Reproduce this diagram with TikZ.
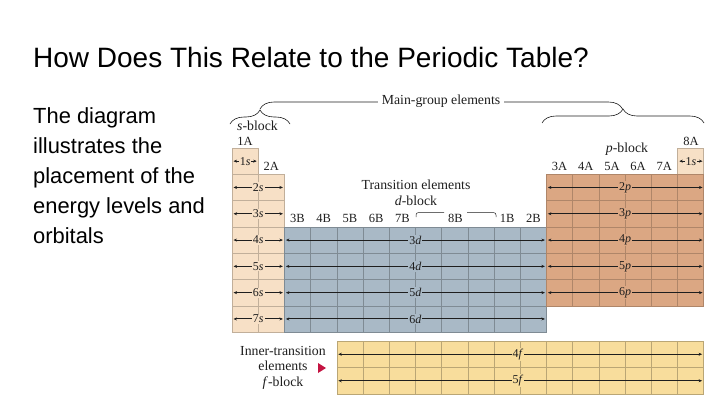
\documentclass[tikz,border=0pt]{standalone}
\usepackage{fontspec}
\setmainfont{Liberation Sans}
\newfontfamily\serifd{Liberation Serif}
\usetikzlibrary{arrows.meta,decorations.pathreplacing}
\definecolor{sfill}{HTML}{F7E0C6}
\definecolor{pfill}{HTML}{DBA783}
\definecolor{dfill}{HTML}{A9B9C6}
\definecolor{ffill}{HTML}{F8DD9C}
\definecolor{tric}{HTML}{C41442}
\definecolor{inkc}{HTML}{1E1E1E}
\newcommand\pcell[3]{\path[#1] ({232+(#2-1)*26.2},{148+(#3-1)*26.3}) rectangle ++(26.2,26.3);}
\begin{document}
\begin{tikzpicture}[x=1pt,y=-1pt,
  titlef/.style={font=\fontsize{28}{32}\selectfont,inner sep=0pt,anchor=base west,text=black},
  bodyf/.style={font=\fontsize{21.9}{26}\selectfont,inner sep=0pt,anchor=base west,text=black},
  blab/.style={font=\serifd\fontsize{13.8}{15.5}\selectfont,inner sep=1pt,text=inkc},
  glab/.style={font=\serifd\fontsize{12.5}{14}\selectfont,inner sep=0.5pt,text=inkc},
  olab/.style={font=\serifd\fontsize{12}{12}\selectfont,inner sep=1pt,text=inkc},
  orb/.style={{Stealth[length=3.5pt,width=3pt]}-{Stealth[length=3.5pt,width=3pt]},draw=inkc},
  gridS/.style={draw=sfill!78!black,line width=0.4pt},
  gridD/.style={draw=dfill!75!black,line width=0.4pt},
  gridP/.style={draw=pfill!80!black,line width=0.4pt},
  gridF/.style={draw=ffill!75!black,line width=0.4pt},
  bracef/.style={draw=inkc,line width=0.6pt,decorate}
]
\useasboundingbox (0,0) rectangle (720,405);

% ---------- text ----------
\node[titlef] (title) at (33,67) {How Does This Relate to the Periodic Table?};
\node[bodyf] (b1) at (33,123) {The diagram};
\node[bodyf] (b2) at (33,153) {illustrates the};
\node[bodyf] (b3) at (33,183) {placement of the};
\node[bodyf] (b4) at (33,213) {energy levels and};
\node[bodyf] (b5) at (33,243) {orbitals};

% ---------- block fills ----------
\fill[sfill] (232,148) rectangle (258.2,174.3);
\fill[sfill] (232,174.3) rectangle (284.4,332.1);
\fill[sfill] (677.8,148) rectangle (704,174.3);
\fill[dfill] (284.4,226.9) rectangle (546.4,332.1);
\fill[pfill] (546.4,174.3) rectangle (704,305.8);
\fill[ffill] (336.8,341) rectangle (703.6,394);

% ---------- cell grids ----------
\pcell{gridS}{1}{1}
\foreach \r in {2,...,7}{\foreach \c in {1,2}{\pcell{gridS}{\c}{\r}}}
\pcell{gridS}{18}{1}
\foreach \r in {4,...,7}{\foreach \c in {3,...,12}{\pcell{gridD}{\c}{\r}}}
\foreach \r in {2,...,6}{\foreach \c in {13,...,18}{\pcell{gridP}{\c}{\r}}}
\foreach \r in {0,1}{\foreach \c in {0,...,13}{\path[gridF] ({336.8+\c*26.2},{341+\r*26.5}) rectangle ++(26.2,26.5);}}

% ---------- orbital arrows ----------
\coordinate (sL1) at (233.5,161.15); \coordinate (sR1) at (256.7,161.15);
\draw[orb,line width=0.5pt] (sL1) -- (sR1);
\node[olab,fill=sfill] (slab1) at (245.1,161.15) {1\textit{s}};
\coordinate (hL1) at (679.3,161.15); \coordinate (hR1) at (702.5,161.15);
\draw[orb,line width=0.5pt] (hL1) -- (hR1);
\node[olab,fill=sfill] (hlab1) at (690.9,161.15) {1\textit{s}};
\foreach \r/\w in {2/0.5,3/1.0,4/1.0,5/0.6,6/0.5,7/1.0}{
  \pgfmathsetmacro\yc{148+(\r-0.5)*26.3}
  \coordinate (sL\r) at (233.5,\yc);
  \coordinate (sR\r) at (282.9,\yc);
  \draw[orb,line width=\w pt] (sL\r) -- (sR\r);
  \node[olab,fill=sfill] (slab\r) at (258.2,\yc) {\r\textit{s}};
}
\foreach \r/\n/\w in {4/3/1.0,5/4/0.8,6/5/0.5,7/6/1.0}{
  \pgfmathsetmacro\yc{148+(\r-0.5)*26.3}
  \coordinate (dL\n) at (285.9,\yc);
  \coordinate (dR\n) at (544.9,\yc);
  \draw[orb,line width=\w pt] (dL\n) -- (dR\n);
  \node[olab,fill=dfill] (dlab\n) at (415.4,\yc) {\n\textit{d}};
}
\foreach \r/\w in {2/0.5,3/1.0,4/1.0,5/0.6,6/0.5}{
  \pgfmathsetmacro\yc{148+(\r-0.5)*26.3}
  \coordinate (pL\r) at (547.9,\yc);
  \coordinate (pR\r) at (702.5,\yc);
  \draw[orb,line width=\w pt] (pL\r) -- (pR\r);
  \node[olab,fill=pfill] (plab\r) at (625.2,\yc) {\r\textit{p}};
}
\foreach \n/\yc/\w in {4/354.25/0.5,5/380.75/1.1}{
  \coordinate (fL\n) at (338.3,\yc);
  \coordinate (fR\n) at (702.1,\yc);
  \draw[orb,line width=\w pt] (fL\n) -- (fR\n);
  \node[olab,fill=ffill] (flab\n) at (518,\yc) {\n\textit{f}};
}

% ---------- braces ----------
\draw[bracef,decoration={brace,amplitude=14pt}] (230,124) -- (290,124);
\draw[bracef,decoration={brace,amplitude=14pt}] (542,123) -- (704,123);
\draw[bracef,decoration={brace,amplitude=14pt}] (260,109) -- (622.5,109);
\node[blab,fill=white,inner xsep=4pt] (mg) at (441,101) {Main-group elements};
\node[blab] (sblk) at (257.5,125.5) {\textit{s}-block};
\node[blab] (pblk) at (627,149) {\textit{p}-block};
\node[blab] (trans) at (416,185) {Transition elements};
\node[blab] (dblk) at (416,201) {\textit{d}-block};

\coordinate (b8l) at (416,217); \coordinate (b8r) at (496,217);
\coordinate (b8a) at (444,212.5); \coordinate (b8b) at (467,212.5);
\draw[draw=inkc,line width=0.5pt,rounded corners=2.5pt] (b8l) -- (416,212.5) -- (b8a);
\draw[draw=inkc,line width=0.5pt,rounded corners=2.5pt] (b8b) -- (496,212.5) -- (b8r);
\node[glab] (g8B) at (455.5,218) {8B};

% ---------- group labels ----------
\node[glab] (g1A) at (245.1,141) {1A};
\node[glab] (g2A) at (271.3,166) {2A};
\node[glab] (g8A) at (690.9,141) {8A};
\foreach \c/\t in {3/3B,4/4B,5/5B,6/6B,7/7B,11/1B,12/2B}{
  \node[glab] (g\t) at ({232+(\c-0.5)*26.2},218) {\t};
}
\foreach \c/\t in {13/3A,14/4A,15/5A,16/6A,17/7A}{
  \node[glab] (g\t) at ({232+(\c-0.5)*26.2},166) {\t};
}

% ---------- inner transition ----------
\node[blab,align=center] (inner) at (283,367.5)
  {Inner-transition\\elements\\\textit{f}-block};
\fill[tric] (318,363) -- (326,368) -- (318,373) -- cycle;
\end{tikzpicture}
\end{document}
